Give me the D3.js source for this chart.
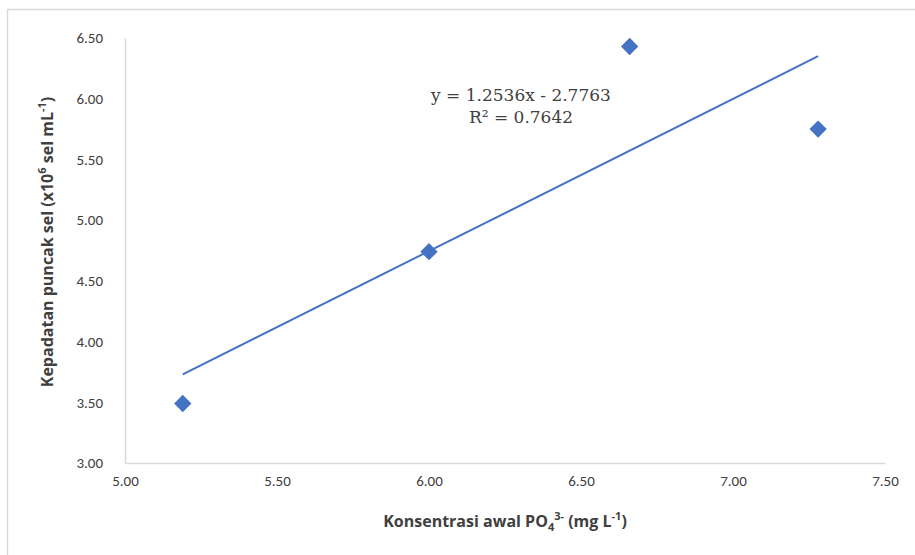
<!DOCTYPE html>
<html><head><meta charset="utf-8">
<script src="https://cdn.jsdelivr.net/npm/d3@7"></script>
<style>body{margin:0;background:#fff;} svg{display:block;}</style>
</head><body>
<svg id="chart" width="915" height="555"></svg>
<script>
const xValues = [5.19, 6.00, 6.66, 7.28];
const yValues = [3.49, 4.74, 6.43, 5.75];
const xTicks = [5.00, 5.50, 6.00, 6.50, 7.00, 7.50];
const yTicks = [3.00, 3.50, 4.00, 4.50, 5.00, 5.50, 6.00, 6.50];
const slope = 1.2536, intercept = -2.7763;
const eqLabel = "y = 1.2536x - 2.7763";
const r2Label = "R² = 0.7642";

const svg = d3.select("#chart");
const tickFont = "Carlito, 'Liberation Sans Narrow', 'DejaVu Sans Condensed', sans-serif";
const titleFont = "'Open Sans', sans-serif";

svg.append("rect").attr("x", 7.5).attr("y", 9.5).attr("width", 1000).attr("height", 1000)
  .attr("fill", "#fff").attr("stroke", "#d9d9d9").attr("stroke-width", 1.5);

const x = d3.scaleLinear().domain([5, 7.5]).range([125, 885]);
const y = d3.scaleLinear().domain([3, 6.5]).range([463, 38]);

const xAxis = svg.append("g").attr("transform", "translate(0,463)")
  .call(d3.axisBottom(x).tickValues(xTicks).tickFormat(d3.format(".2f")).tickSize(0).tickPadding(12));
const yAxis = svg.append("g").attr("transform", "translate(125,0)")
  .call(d3.axisLeft(y).tickValues(yTicks).tickFormat(d3.format(".2f")).tickSize(0).tickPadding(22));
[xAxis, yAxis].forEach(g => {
  g.select(".domain").attr("stroke", "#d9d9d9").attr("stroke-width", 1.5);
  g.selectAll("text").attr("font-family", tickFont).attr("font-size", 15).attr("fill", "#404040");
});

const pts = xValues.map((v, i) => ({x: v, y: yValues[i]}));
const xmin = d3.min(xValues), xmax = d3.max(xValues);
svg.append("line")
  .attr("x1", x(xmin)).attr("y1", y(slope * xmin + intercept))
  .attr("x2", x(xmax)).attr("y2", y(slope * xmax + intercept))
  .attr("stroke", "#4472C4").attr("stroke-width", 2);

svg.selectAll("path.pt").data(pts).join("path").attr("class", "pt")
  .attr("d", d3.symbol(d3.symbolSquare, 150)())
  .attr("transform", d => `translate(${x(d.x)},${y(d.y)}) rotate(45)`)
  .attr("fill", "#4472C4");

svg.append("text").attr("x", 521).attr("y", 101).attr("text-anchor", "middle")
  .attr("font-family", "'DejaVu Serif', serif").attr("font-size", 17).attr("fill", "#404040")
  .text(eqLabel);
svg.append("text").attr("x", 521).attr("y", 123).attr("text-anchor", "middle")
  .attr("font-family", "'DejaVu Serif', serif").attr("font-size", 17).attr("fill", "#404040")
  .text(r2Label);

const xt = svg.append("text").attr("x", 505).attr("y", 527).attr("text-anchor", "middle")
  .attr("font-family", titleFont).attr("font-size", 16).attr("font-weight", "bold").attr("fill", "#404040");
xt.append("tspan").text("Konsentrasi awal PO");
xt.append("tspan").attr("font-size", 11).attr("dy", 4).text("4");
xt.append("tspan").attr("font-size", 11).attr("dy", -11).text("3-");
xt.append("tspan").attr("dy", 7).text(" (mg L");
xt.append("tspan").attr("font-size", 11).attr("dy", -7).text("-1");
xt.append("tspan").attr("dy", 7).text(")");

const yt = svg.append("text").attr("transform", "translate(53,242) rotate(-90)").attr("text-anchor", "middle")
  .attr("font-family", titleFont).attr("font-size", 16).attr("font-weight", "bold").attr("fill", "#404040");
yt.append("tspan").text("Kepadatan puncak sel (x10");
yt.append("tspan").attr("font-size", 11).attr("dy", -7).text("6");
yt.append("tspan").attr("dy", 7).text(" sel mL");
yt.append("tspan").attr("font-size", 11).attr("dy", -7).text("-1");
yt.append("tspan").attr("dy", 7).text(")");
</script>
</body></html>
